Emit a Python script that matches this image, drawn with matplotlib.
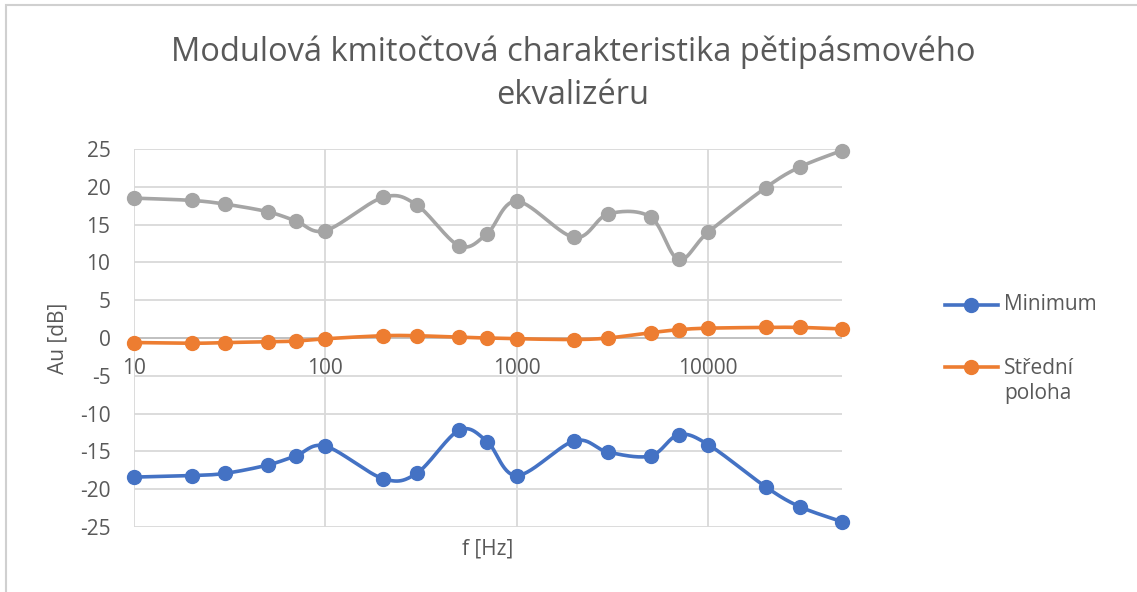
import numpy as np
import matplotlib
matplotlib.use("Agg")
import matplotlib.pyplot as plt
from matplotlib.patches import Rectangle
from matplotlib.lines import Line2D

plt.rcParams["font.family"] = ["Open Sans", "DejaVu Sans"]

# ---------------------------------------------------------------------------
# Data
# ---------------------------------------------------------------------------
freq = [10, 20, 30, 50, 70, 100, 200, 300, 500, 700,
        1000, 2000, 3000, 5000, 7000, 10000, 20000, 30000, 50000]
minimum = [-18.4, -18.2, -17.9, -16.8, -15.6, -14.3, -18.6, -17.9, -12.2, -13.7,
           -18.2, -13.6, -15.1, -15.6, -12.8, -14.1, -19.7, -22.3, -24.3]
stredni = [-0.6, -0.7, -0.6, -0.5, -0.4, -0.1, 0.3, 0.3, 0.1, 0.0,
           -0.1, -0.2, 0.0, 0.7, 1.1, 1.3, 1.4, 1.4, 1.2]
maximum = [18.5, 18.2, 17.7, 16.7, 15.5, 14.2, 18.6, 17.6, 12.2, 13.8,
           18.1, 13.3, 16.4, 16.0, 10.4, 14.0, 19.9, 22.6, 24.8]

series = [("Minimum", minimum, "#4472C4"),
          ("Střední\npoloha", stredni, "#ED7D31"),
          (None, maximum, "#A5A5A5")]

yticks = list(range(-25, 30, 5))
xticks = [10, 100, 1000, 10000]

TEXT = "#595959"
GRID = "#D9D9D9"
W, H = 1137, 592

# pixel scale of the plot (for Excel-like smoothing in screen space)
SX, SY = 191.5, 7.56


def smooth(xs, ys, n=30):
    """Excel-style smoothed line: cubic Bezier through points."""
    px = np.log10(xs) * SX
    py = np.asarray(ys) * SY
    pts = np.column_stack([px, py])
    out = [pts[0]]
    for i in range(len(pts) - 1):
        p0 = pts[max(i - 1, 0)]
        p1 = pts[i]
        p2 = pts[i + 1]
        p3 = pts[min(i + 2, len(pts) - 1)]
        c1 = p1 + (p2 - p0) / 6
        c2 = p2 - (p3 - p1) / 6
        t = np.linspace(0, 1, n)[1:, None]
        seg = ((1 - t) ** 3 * p1 + 3 * (1 - t) ** 2 * t * c1
               + 3 * (1 - t) * t ** 2 * c2 + t ** 3 * p2)
        out.extend(seg)
    out = np.array(out)
    return 10 ** (out[:, 0] / SX), out[:, 1] / SY


fig = plt.figure(figsize=(W / 100, H / 100), dpi=100)
ax = fig.add_axes([134 / W, 65 / H, 708 / W, 378 / H])

# chart-area border (only left/top edges visible in the reference)
fig.patches.append(Rectangle((6 / W, -0.1), 1.2, 1 - 5 / H + 0.1,
                             transform=fig.transFigure, fill=False,
                             edgecolor="#D0D0D0", lw=1.5))

for name, vals, color in series:
    sx, sy = smooth(freq, vals)
    ax.plot(sx, sy, color=color, lw=2.6, solid_capstyle="round",
            zorder=3, clip_on=False)
    ax.plot(freq, vals, ls="none", marker="o", ms=10, color=color,
            zorder=4, clip_on=False)

ax.set_xscale("log")
ax.set_xlim(10, 50000)
ax.set_ylim(-25, 25)

for y in yticks:
    ax.axhline(y, color=GRID, lw=1.3, zorder=1)
for x in xticks:
    ax.axvline(x, color=GRID, lw=1.3, zorder=1)
ax.axhline(0, color="#BFBFBF", lw=1.3, zorder=2)

for s in ax.spines.values():
    s.set_visible(False)
ax.set_xticks([])
ax.set_yticks(yticks)
ax.set_yticklabels([str(v) for v in yticks], color=TEXT, fontsize=15)
ax.tick_params(axis="y", length=0, pad=17)
ax.minorticks_off()

# category labels sit just under the 0 dB crossing, as Excel draws them
for x in xticks:
    ax.text(x, -4.0, str(x), ha="center", va="center", color=TEXT, fontsize=15)

fig.text(488 / W, 1 - 549 / H, "f [Hz]", ha="center", va="center",
         color=TEXT, fontsize=15)
fig.text(58 / W, 1 - 338 / H, "Au [dB]", ha="center", va="center",
         rotation=90, color=TEXT, fontsize=15)

fig.text(573 / W, 1 - 73.5 / H,
         "Modulová kmitočtová charakteristika pětipásmového\nekvalizéru",
         ha="center", va="center", color=TEXT, fontsize=23.5, linespacing=1.4)

# legend, placed like Excel's right-hand legend (gray series has no entry)
for (name, vals, color), (ym, yt) in zip(series[:2], [(305, 305), (367, 381)]):
    fig.lines.append(Line2D([945 / W, 998 / W], [1 - ym / H, 1 - ym / H],
                            transform=fig.transFigure, color=color, lw=2.6))
    fig.lines.append(Line2D([971 / W], [1 - ym / H], transform=fig.transFigure,
                            marker="o", ms=10, color=color))
    fig.text(1004 / W, 1 - yt / H, name, ha="left", va="center", color=TEXT,
             fontsize=15, linespacing=1.3)

fig.savefig("out.png", dpi=100)
